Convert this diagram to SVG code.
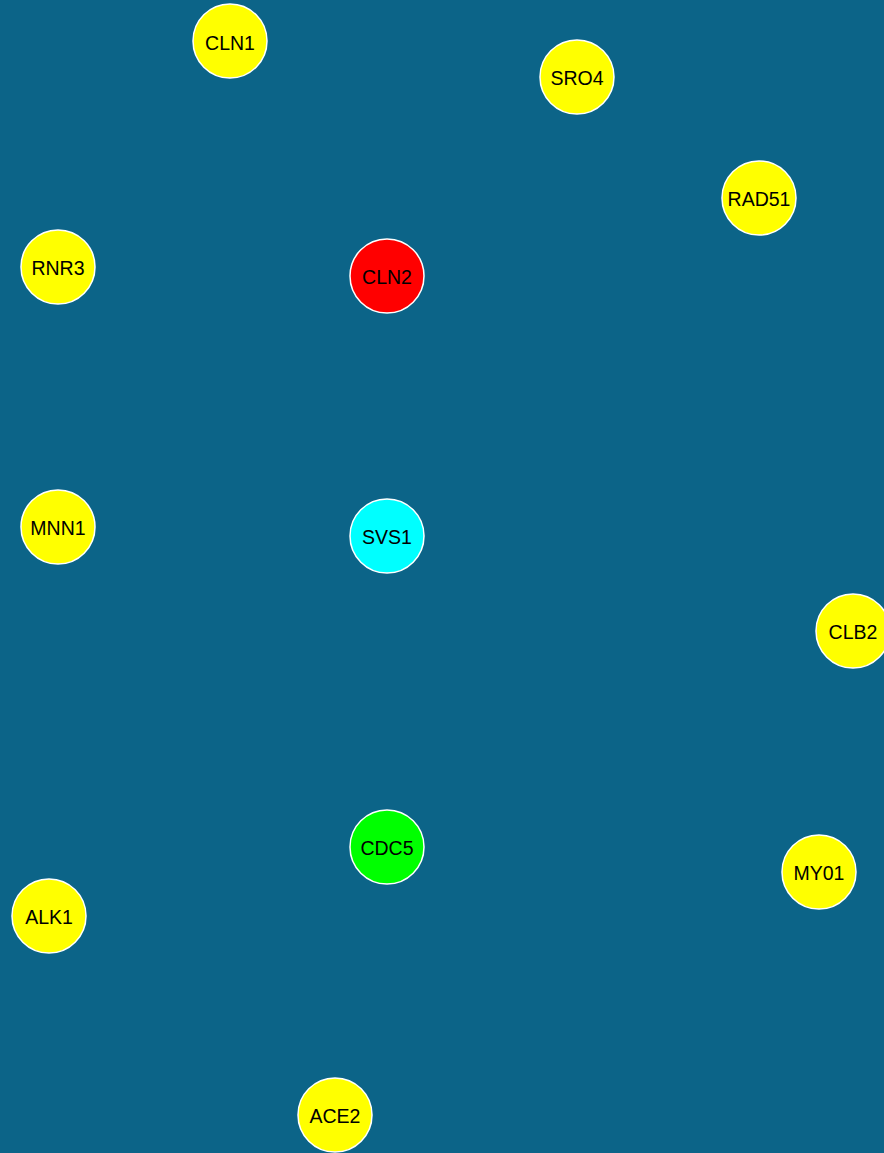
<svg xmlns="http://www.w3.org/2000/svg" width="884" height="1153" viewBox="0 0 884 1153">
<style>
.n circle{stroke:#fff;stroke-width:1.5}
.n text{font-family:"Liberation Sans",Arial,sans-serif;font-size:19.5px;fill:#000;text-anchor:middle}
.y{fill:#ffff00}
</style>
<rect width="884" height="1153" fill="#0c6488"/>
<g id="connectors"></g>
<g id="CLN1" class="n"><circle class="y" cx="230" cy="41" r="37"/><text x="230" y="49.5">CLN1</text></g>
<g id="SRO4" class="n"><circle class="y" cx="577" cy="77" r="37"/><text x="577" y="85">SRO4</text></g>
<g id="RAD51" class="n"><circle class="y" cx="759" cy="198" r="37"/><text x="759" y="206">RAD51</text></g>
<g id="RNR3" class="n"><circle class="y" cx="58" cy="267" r="37"/><text x="58" y="275">RNR3</text></g>
<g id="CLN2" class="n"><circle fill="#ff0000" cx="387" cy="276" r="37"/><text x="387" y="284">CLN2</text></g>
<g id="MNN1" class="n"><circle class="y" cx="58" cy="527" r="37"/><text x="58" y="535">MNN1</text></g>
<g id="SVS1" class="n"><circle fill="#00ffff" cx="387" cy="536" r="37"/><text x="387" y="544">SVS1</text></g>
<g id="CLB2" class="n"><circle class="y" cx="853" cy="631" r="37"/><text x="853" y="639">CLB2</text></g>
<g id="CDC5" class="n"><circle fill="#00ff00" cx="387" cy="847" r="37"/><text x="387" y="855">CDC5</text></g>
<g id="MY01" class="n"><circle class="y" cx="819" cy="872" r="37"/><text x="819" y="880">MY01</text></g>
<g id="ALK1" class="n"><circle class="y" cx="49" cy="916" r="37"/><text x="49" y="924">ALK1</text></g>
<g id="ACE2" class="n"><circle class="y" cx="335" cy="1115" r="37"/><text x="335" y="1123">ACE2</text></g>
</svg>
